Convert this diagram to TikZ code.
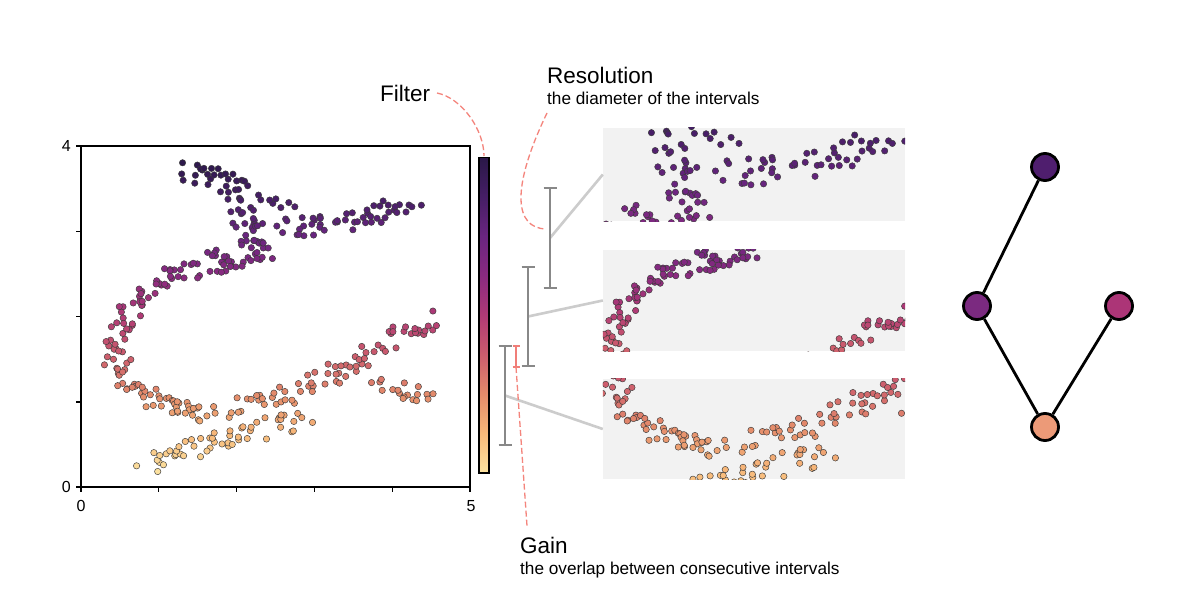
\documentclass[tikz,border=0pt]{standalone}
\usepackage{fontspec}
\setmainfont{Liberation Sans}
\usetikzlibrary{calc}
\definecolor{cm0}{HTML}{FCE3A1}
\definecolor{cm1}{HTML}{F7B879}
\definecolor{cm2}{HTML}{E48B6B}
\definecolor{cm3}{HTML}{CC5C6D}
\definecolor{cm4}{HTML}{B03A75}
\definecolor{cm5}{HTML}{8A2A80}
\definecolor{cm6}{HTML}{6A2580}
\definecolor{cm7}{HTML}{461E66}
\definecolor{cm8}{HTML}{2A1848}
\definecolor{panelbg}{HTML}{F2F2F2}
\definecolor{brkgray}{HTML}{888888}
\definecolor{conngray}{HTML}{CCCCCC}
\definecolor{salmonline}{HTML}{F4847C}
\definecolor{gaincol}{HTML}{F07E78}
\definecolor{gA}{HTML}{4F1E6E}
\definecolor{gB}{HTML}{7B2A80}
\definecolor{gC}{HTML}{AC3577}
\definecolor{gD}{HTML}{EC9A78}
\definecolor{ptedge}{HTML}{3A3A3A}
\newcommand\setcm[1]{%
  \pgfmathsetmacro\cmt{max(0,min(0.9999,#1))*8}%
  \pgfmathtruncatemacro\cmk{floor(\cmt)}%
  \pgfmathtruncatemacro\cmkk{\cmk+1}%
  \pgfmathtruncatemacro\cmp{100*(1-(\cmt-\cmk))}%
  \colorlet{pc}{cm\cmk!\cmp!cm\cmkk}%
}
\newcommand\segs{185/170/256/193/34/13, 236/206/266/245/26/12, 266/199/296/205/6/6, 278/227/340/224/22/11, 340/223/418/204/28/11, 266/248/200/264/34/12, 200/266/152/285/20/10, 150/288/126/318/16/10, 124/320/114/350/16/10, 114/355/130/385/16/10, 132/387/165/404/16/10, 166/406/203/414/22/8, 146/464/200/446/20/10, 202/444/306/418/34/11, 218/412/300/390/24/10, 302/386/380/352/30/11, 382/344/436/318/20/10, 375/384/432/396/18/8}
\newcommand\cloud[6]{%
  \pgfmathsetseed{13579}%
  \foreach \xa/\ya/\xb/\yb/\nn/\jj in \segs {%
    \foreach \ii in {1,...,\nn} {%
      \pgfmathsetmacro\tv{(\ii-1+rnd)/\nn}%
      \pgfmathsetmacro\ptx{\xa+\tv*(\xb-\xa)+\jj*rand}%
      \pgfmathsetmacro\pty{\ya+\tv*(\yb-\ya)+\jj*rand}%
      \setcm{(473-\pty)/315}%
      \pgfmathsetmacro\qx{#1+#5*(\ptx-#3)}%
      \pgfmathsetmacro\qy{#2+#6*(\pty-#4)}%
      \fill[pc, draw=ptedge, line width=0.45pt] (\qx,\qy) circle[radius=3.2pt];
    }%
  }%
}
\begin{document}
\begin{tikzpicture}[x=1pt,y=-1pt,
  axisl/.style={line width=1.3pt, black},
  ticklbl/.style={font=\fontsize{16}{19}\selectfont, inner sep=0pt},
  biglbl/.style={font=\fontsize{22.5}{27}\selectfont, inner sep=0pt, anchor=base west},
  sublbl/.style={font=\fontsize{17.2}{20}\selectfont, inner sep=0pt, anchor=base west},
  panel/.style={fill=panelbg, draw=none, minimum width=302pt, inner sep=0pt},
  brk/.style={brkgray, line width=2.6pt},
  gbrk/.style={gaincol, line width=2.4pt},
  conn/.style={conngray, line width=2.6pt},
  dashln/.style={salmonline, line width=1.3pt, dash pattern=on 6pt off 3pt},
  gnode/.style={circle, draw=black, line width=2.8pt, minimum size=27pt, inner sep=0pt},
  gedge/.style={black, line width=2.8pt}]
\useasboundingbox (0,0) rectangle (1186,610);
\fill[white] (0,0) rectangle (1186,610);

% main scatter plot
\cloud{0}{0}{0}{0}{1}{1}
\draw[axisl] (81,146) rectangle (470,487);
\foreach \x in {81,158.5,236.5,314.5,392.5,470} \draw[axisl] (\x,487) -- (\x,492);
\foreach \y in {146,231.5,316.75,402,487} \draw[axisl] (81,\y) -- (76,\y);
\node[ticklbl, anchor=east] (ylo) at (71,487) {0};
\node[ticklbl, anchor=east] (yhi) at (71,146) {4};
\node[ticklbl, anchor=north] (xlo) at (81,500) {0};
\node[ticklbl, anchor=north] (xhi) at (471,500) {5};

% colour bar
\foreach \k in {0,...,314} {%
  \setcm{(\k+0.5)/315}%
  \fill[pc] (479,473-\k) rectangle (489,472-\k-0.4);
}
\draw[black, line width=1.2pt] (479,157.5) rectangle (489,473);
\coordinate (cbtop) at (484,156);

% panels
\node[panel, minimum height=93pt] (p1) at (754,174.5) {};
\node[panel, minimum height=101pt] (p2) at (754,300.5) {};
\node[panel, minimum height=100pt] (p3) at (754,429) {};
\begin{scope}
  \clip (p1.south west) rectangle (p1.north east);
  \cloud{603}{128}{191}{196}{1.31}{1.43}
\end{scope}
\begin{scope}
  \clip (p2.south west) rectangle (p2.north east);
  \cloud{603}{250}{105}{250}{0.92}{0.92}
\end{scope}
\begin{scope}
  \clip (p3.south west) rectangle (p3.north east);
  \cloud{603}{379}{105}{352}{1.12}{1.12}
\end{scope}

% interval brackets
\coordinate (b1t) at (550,188); \coordinate (b1b) at (550,288); \coordinate (b1m) at (550,238);
\coordinate (b2t) at (528,267); \coordinate (b2b) at (528,366); \coordinate (b2m) at (528,316.5);
\coordinate (b3t) at (505,346); \coordinate (b3b) at (505,445); \coordinate (b3m) at (505,395.5);
\coordinate (gt) at (516,346); \coordinate (gb) at (516,367);
\draw[conn] (b1m) -- (p1.west);
\draw[conn] (b2m) -- (p2.west);
\draw[conn] (b3m) -- (p3.west);
\foreach \b in {b1,b2,b3} {
  \draw[brk] (\b t) -- (\b b);
  \draw[brk] ($(\b t)+(-6.5,0)$) -- ($(\b t)+(6.5,0)$);
  \draw[brk] ($(\b b)+(-6.5,0)$) -- ($(\b b)+(6.5,0)$);
}
\draw[gbrk] (gt) -- (gb);
\draw[gbrk] ($(gt)+(-3.5,0)$) -- ($(gt)+(3.5,0)$);
\draw[gbrk] ($(gb)+(-3.5,0)$) -- ($(gb)+(3.5,0)$);

% labels
\node[biglbl] (filt) at (380,101) {Filter};
\node[biglbl] (res) at (547,83) {Resolution};
\node[sublbl] (ressub) at (547,104) {the diameter of the intervals};
\node[biglbl] (gain) at (520,553) {Gain};
\node[sublbl] (gainsub) at (520,574) {the overlap between consecutive intervals};
\coordinate (filtend) at (437,93);
\coordinate (resend) at (547,113);
\coordinate (resto) at (546,229);
\coordinate (gainend) at (527,526);
\draw[dashln] (filtend) .. controls (462,98) and (484,130) .. (cbtop);
\draw[dashln] (resend) .. controls (510,190) and (515,228) .. (resto);
\draw[dashln] (gb) -- (gainend);

% graph
\node[gnode, fill=gA] (n1) at (1045,167) {};
\node[gnode, fill=gB] (n2) at (977,306) {};
\node[gnode, fill=gC] (n3) at (1119,306) {};
\node[gnode, fill=gD] (n4) at (1045,427) {};
\draw[gedge] (n1) -- (n2);
\draw[gedge] (n2) -- (n4);
\draw[gedge] (n3) -- (n4);
\end{tikzpicture}
\end{document}
